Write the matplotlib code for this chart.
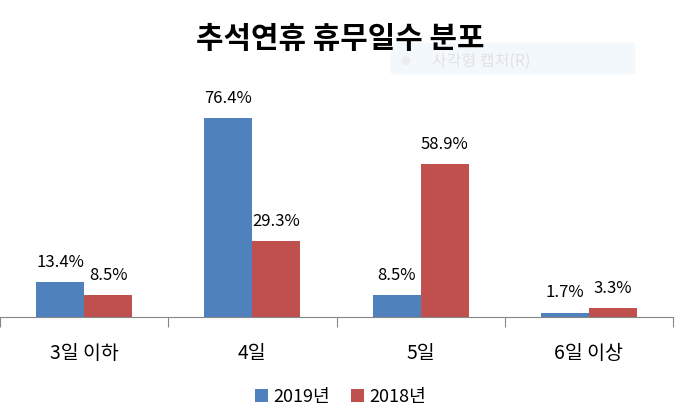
import matplotlib.pyplot as plt
import numpy as np

plt.rcParams['font.family'] = ['Noto Sans CJK KR', 'DejaVu Sans']

categories = ['3일 이하', '4일', '5일', '6일 이상']
series_names = ['2019년', '2018년']
vals_2019 = [13.4, 76.4, 8.5, 1.7]
vals_2018 = [8.5, 29.3, 58.9, 3.3]
colors = ['#4F81BD', '#C0504D']


def label_bars(ax, bars, vals):
    for b, v in zip(bars, vals):
        ax.annotate(f'{v}%', (b.get_x() + b.get_width() / 2, b.get_height()),
                    xytext=(0, 8), textcoords='offset points',
                    ha='center', va='bottom', fontsize=12, annotation_clip=False)


fig = plt.figure(figsize=(6.81, 4.08), dpi=100)
ax = fig.add_axes([0.0, 0.223, 673 / 681, 0.51])

x = np.arange(len(categories))
w = 0.285
b1 = ax.bar(x - w / 2, vals_2019, w, color=colors[0], label=series_names[0])
b2 = ax.bar(x + w / 2, vals_2018, w, color=colors[1], label=series_names[1])
label_bars(ax, b1, vals_2019)
label_bars(ax, b2, vals_2018)

ax.set_xlim(-0.5, len(categories) - 0.5)
ax.set_ylim(0, 80)
for s in ['top', 'right', 'left']:
    ax.spines[s].set_visible(False)
ax.spines['bottom'].set_color('#868686')
ax.set_yticks([])
ax.set_xticks(np.arange(len(categories) + 1) - 0.5, minor=False)
ax.set_xticklabels([''] * (len(categories) + 1))
ax.set_xticks(x, minor=True)
ax.set_xticklabels(categories, minor=True, fontsize=14)
ax.tick_params(axis='x', which='major', length=7, color='#868686')
ax.tick_params(axis='x', which='minor', length=0, pad=19)

fig.text(0.5, 0.905, '추석연휴 휴무일수 분포', ha='center', va='center',
         fontsize=21.5, fontweight='bold')

# faint screen-capture overlay seen in the reference
fig.patches.append(plt.Rectangle((391 / 681, 1 - 73 / 408), 243 / 681, 30 / 408,
                                 transform=fig.transFigure, color='#F3F8FD', zorder=0))
fig.text(405 / 681, 1 - 61 / 408, '●', color='#EDEDED', fontsize=7, va='center', ha='center')
fig.text(432 / 681, 1 - 61 / 408, '사각형 캡처(R)', color='#E2E2E2', fontsize=11.5, va='center')

fig.legend(loc='lower center', ncol=2, frameon=False, fontsize=13,
           bbox_to_anchor=(0.5, -0.035), handlelength=0.7, handleheight=0.7,
           handletextpad=0.3, columnspacing=1.2)

fig.savefig('out.png', dpi=100)
